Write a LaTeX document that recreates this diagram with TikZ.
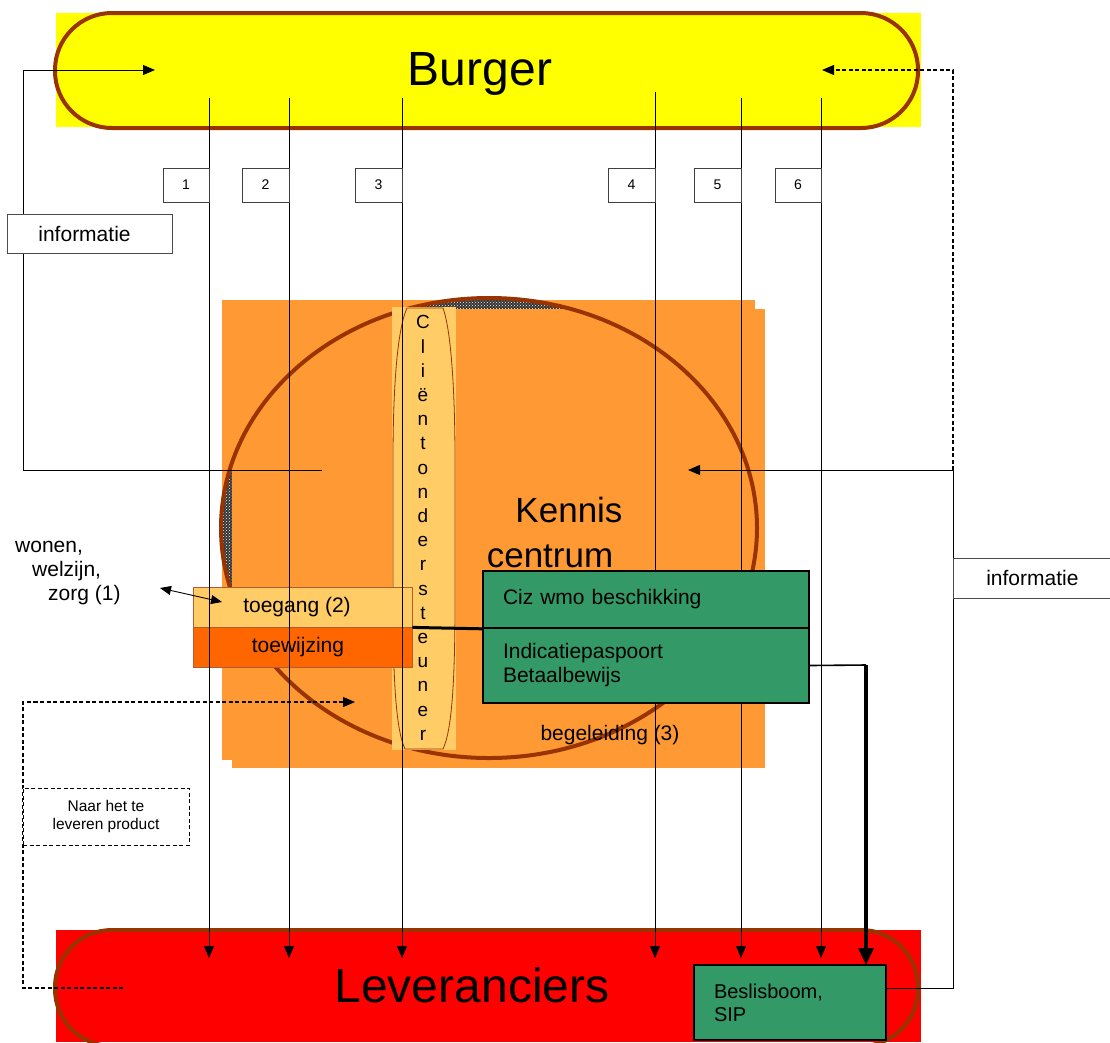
\documentclass[tikz,border=0pt]{standalone}
\usepackage{fontspec}
\setmainfont{Liberation Sans}
\usetikzlibrary{arrows.meta,patterns}
\definecolor{brn}{HTML}{993300}
\definecolor{yel}{HTML}{FFFF00}
\definecolor{org}{HTML}{FF9933}
\definecolor{lor}{HTML}{FFCC66}
\definecolor{dor}{HTML}{FF6600}
\definecolor{grn}{HTML}{339966}
\definecolor{rd}{HTML}{FF0000}
\begin{document}
\begin{tikzpicture}[x=1pt,y=-1pt]
\tikzset{
 lbl/.style={font=\fontsize{21}{25}\selectfont, inner sep=0pt},
 conn/.style={draw=black, line width=0.9pt},
 tip/.style={-{Triangle[length=12pt,width=10pt]}},
 dash2/.style={dash pattern=on 4pt off 2.5pt, line width=1.1pt},
 numbox/.style={draw=black!75, fill=white, line width=0.8pt, minimum height=34pt, inner sep=0pt, font=\fontsize{14}{16}\selectfont},
 infobox/.style={draw=black!70, fill=white, line width=0.8pt, minimum height=39pt, inner sep=0pt, font=\fontsize{21}{25}\selectfont},
 stadium/.style={draw=brn, line width=4pt, rounded corners=57pt, minimum width=863pt, inner sep=0pt},
 gbox/.style={draw=black, line width=1.6pt, fill=grn, align=left, inner xsep=20pt, inner ysep=0pt, font=\fontsize{21}{24}\selectfont},
 obox/.style={draw=brn!80, line width=0.8pt, minimum width=219pt, minimum height=40pt, inner sep=0pt, font=\fontsize{21}{24}\selectfont},
}
\useasboundingbox (0,0) rectangle (1110,1042);
\clip (0,0) rectangle (1110,1042);
\fill[white] (0,0) rectangle (1110,1042);

% Burger
\fill[yel] (56,13) rectangle (921,127);
\node[stadium, minimum height=115pt] (burger) at (486.5,70.5) {};
\node[font=\fontsize{48}{52}\selectfont, inner sep=0pt] (burgertxt) at (480,74) {Burger};

% Leveranciers
\fill[rd] (56,930) rectangle (921,1042);
\node[stadium, minimum height=116pt] (lev) at (486.5,988) {};
\node[font=\fontsize{48}{52}\selectfont, inner sep=0pt] (levtxt) at (472,985) {Leveranciers};

% Kennis centrum background
\fill[org] (222,300) rectangle (755,760);
\fill[black!80] (489,528) ellipse [x radius=268, y radius=230];
\fill[pattern=crosshatch dots, pattern color=white] (489,528) ellipse [x radius=268, y radius=230];
\fill[org] (232,309) rectangle (765,768);
\draw[brn, line width=4pt] (489,528) ellipse [x radius=268, y radius=230];

% Clientondersteuner
\fill[lor] (392,307) rectangle (456,750);
\draw[brn, line width=0.8pt, fill=lor] (407,308) -- (443,308)
  .. controls (451,330) and (455,390) .. (455,460) -- (455,600)
  .. controls (455,680) and (452,730) .. (443,749) -- (405,749)
  .. controls (396,730) and (393,680) .. (393,600) -- (393,460)
  .. controls (393,390) and (397,330) .. (407,308) -- cycle;
\node[align=center, font=\fontsize{19}{24.2}\selectfont, inner sep=0pt] (client) at (423,528)
  {C\\l\\i\\ë\\n\\t\\o\\n\\d\\e\\r\\s\\t\\e\\u\\n\\e\\r};

% Kennis centrum text
\node[font=\fontsize{35}{40}\selectfont, inner sep=0pt] (ken1) at (569,510) {Kennis};
\node[font=\fontsize{35}{40}\selectfont, inner sep=0pt] (ken2) at (550,556) {centrum};

% toegang / toewijzing
\node[obox, fill=lor] (toeg) at (302.5,607) {\hspace*{-11pt}toegang (2)};
\node[obox, fill=dor] (toew) at (302.5,647) {\hspace*{-9pt}toewijzing};

% wonen welzijn zorg
\node[lbl, anchor=base west] (won1) at (15,552) {wonen,};
\node[lbl, anchor=base west] (won2) at (32,576) {welzijn,};
\node[lbl, anchor=base west] (won3) at (48,600) {zorg (1)};
\coordinate (wa) at (160,588);
\coordinate (wb) at (222,602);
\draw[conn, {Triangle[length=11pt,width=9pt]}-{Triangle[length=11pt,width=9pt]}] (wa) -- (wb);

\node[lbl] (beg) at (610,735) {begeleiding (3)};

% vertical lines 1..6
\foreach \i/\x/\t in {1/209/98, 2/289/98, 3/402/98, 4/655/92, 5/741/98, 6/821/98} {
  \coordinate (t\i) at (\x,\t);
  \coordinate (b\i) at (\x,958);
  \draw[conn, tip] (t\i) -- (b\i);
}
\node[numbox, minimum width=46pt] (n1) at (186,185) {1};
\node[numbox, minimum width=47pt] (n2) at (265.5,185) {2};
\node[numbox, minimum width=47pt] (n3) at (378.5,185) {3};
\node[numbox, minimum width=47pt] (n4) at (631.5,185) {4};
\node[numbox, minimum width=47pt] (n5) at (717.5,185) {5};
\node[numbox, minimum width=46pt] (n6) at (798,185) {6};

% green boxes
\node[gbox, text width=286pt, minimum height=57pt] (ciz) at (646,599.5) {Ciz wmo beschikking};
\node[gbox, text width=286pt, minimum height=75pt] (ind) at (646,665.5) {Indicatiepaspoort\\Betaalbewijs};
\draw[line width=3pt] (toeg.south east) -- (ciz.south west);

\node[gbox, text width=152pt, minimum height=75pt, font=\fontsize{20}{23}\selectfont] (besl) at (790,1002.5) {Beslisboom,\\SIP};

\coordinate (gC) at (866,665);
\coordinate (bT) at (866,965);
\draw[line width=1.6pt] (ind.east) -- (gC);
\draw[line width=3.2pt, -{Triangle[length=17pt,width=15pt]}] (gC) -- (bT);

% left solid information loop
\coordinate (kcL) at (322,470);
\coordinate (lc1) at (23,470);
\coordinate (lc2) at (23,70);
\coordinate (burL) at (155,70);
\draw[conn, tip] (kcL) -- (lc1) -- (lc2) -- (burL);

% right loops
\coordinate (beslR) at (886,988);
\coordinate (rc1) at (953,988);
\coordinate (rj) at (953,470);
\coordinate (kcR) at (688,470);
\coordinate (rtop) at (953,70);
\coordinate (burR) at (822,70);
\draw[conn, tip] (beslR) -- (rc1) -- (rj) -- (kcR);
\draw[conn, dash2, tip] (rj) -- (rtop) -- (burR);

% left dashed loop
\coordinate (levL) at (123,988);
\coordinate (ld1) at (23,988);
\coordinate (ld2) at (23,702);
\coordinate (kcL2) at (355,702);
\draw[conn, dash2, tip] (levL) -- (ld1) -- (ld2) -- (kcL2);

% info boxes
\node[infobox, minimum width=165pt] (info1) at (89.5,234) {\hspace*{-10pt}informatie};
\node[infobox, minimum width=158pt, minimum height=40pt, anchor=west] (info2) at (953,578) {informatie};
\node[draw=black, dash2, line width=0.9pt, fill=white, minimum width=166pt, minimum height=57pt, align=center, inner sep=0pt, font=\fontsize{15.5}{18.5}\selectfont] (naar) at (106,816.5) {Naar het te\\leveren product};
\end{tikzpicture}
\end{document}
